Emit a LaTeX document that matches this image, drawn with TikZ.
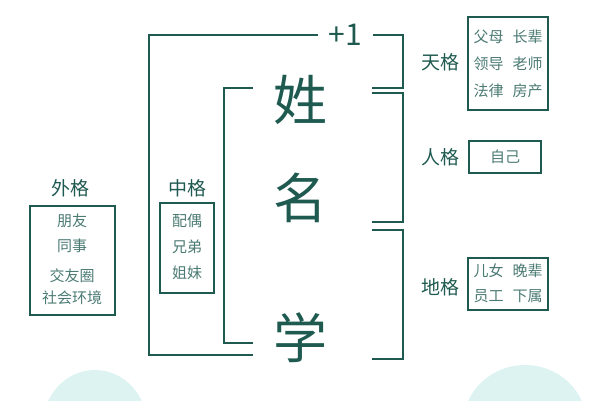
\documentclass[tikz,border=0pt]{standalone}
\usepackage{fontspec}
\setmainfont{Noto Sans CJK SC}
\definecolor{teal1}{HTML}{1F5A50}
\definecolor{teal2}{HTML}{4A7A72}
\definecolor{mint}{HTML}{DDF3F1}
\tikzset{
  lbl/.style={text=teal1,font=\fontsize{19}{19}\selectfont},
  big/.style={text=teal1,font=\fontsize{54}{54}\selectfont},
  itm/.style={text=teal2,font=\fontsize{15}{15}\selectfont},
  frame/.style={draw=teal1,line width=1.6pt}
}
\begin{document}
\begin{tikzpicture}[x=1pt,y=-1pt,line width=1.6pt,draw=teal1]
\useasboundingbox (0,0) rectangle (600,400);
%background
\fill[mint] (95,425) ellipse (52 and 55);
\fill[mint] (525,425) ellipse (62 and 60);
%main characters
\node[big] (xing) at (300,100){姓};
\node[big] (ming) at (300,198){名};
\node[big] (xue) at (300,338){学};
\node[text=teal1,font=\fontsize{30}{30}\selectfont] (plus) at (345,35){+1};
%brackets
\draw[teal1] (253,355) -- (149,355) -- (149,35) -- (318,35);
\draw[teal1] (373,35) -- (403,35) -- (403,88) -- (372,88);
\draw[teal1] (253,88) -- (224,88) -- (224,343) -- (253,343);
\draw[teal1] (372,93) -- (403,93) -- (403,222) -- (372,222);
\draw[teal1] (372,230) -- (403,230) -- (403,359) -- (372,359);
%right side
\node[lbl] (tian) at (440,62){天格};
\draw[frame] (468,17) rectangle (548,110);
\node[itm] (t1) at (508,37){父母\hspace{0.6em}长辈};
\node[itm] (t2) at (508,64){领导\hspace{0.6em}老师};
\node[itm] (t3) at (508,91){法律\hspace{0.6em}房产};
\node[lbl] (ren) at (440,157){人格};
\draw[frame] (469,141) rectangle (541,173);
\node[itm] (r1) at (505,157){自己};
\node[lbl] (di) at (440,287){地格};
\draw[frame] (468,258) rectangle (548,310);
\node[itm] (d1) at (508,271){儿女\hspace{0.6em}晚辈};
\node[itm] (d2) at (508,296){员工\hspace{0.6em}下属};
%left side
\node[lbl] (wai) at (70,188){外格};
\draw[frame] (30,206) rectangle (115,315);
\node[itm] (w1) at (72,221){朋友};
\node[itm] (w2) at (72,246){同事};
\node[itm] (w3) at (72,276){交友圈};
\node[itm] (w4) at (72,298){社会环境};
\node[lbl] (zhong) at (187,188){中格};
\draw[frame] (160,203) rectangle (214,293);
\node[itm] (z1) at (187,221){配偶};
\node[itm] (z2) at (187,247){兄弟};
\node[itm] (z3) at (187,273){姐妹};
\end{tikzpicture}
\end{document}
